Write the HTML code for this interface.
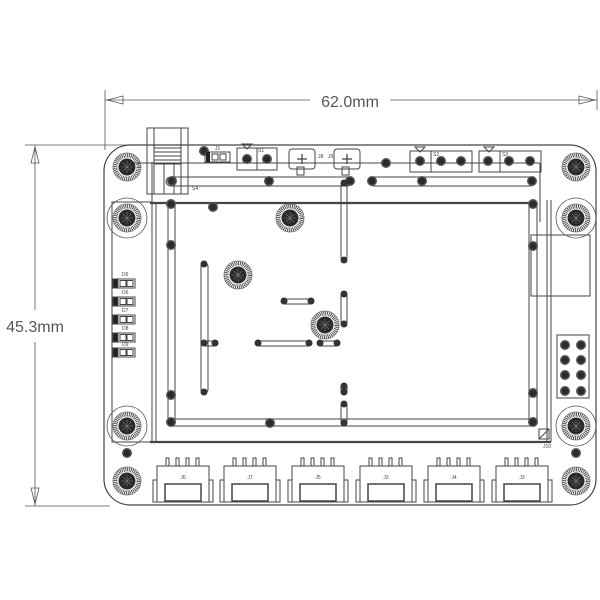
<!DOCTYPE html>
<html><head><meta charset="utf-8"><style>
html,body{margin:0;padding:0;background:#fff;}
svg{display:block;}
text{font-family:"Liberation Sans",sans-serif;}
</style></head><body>
<svg width="600" height="600" viewBox="0 0 600 600" xmlns="http://www.w3.org/2000/svg">
<defs>
<g id="kh">
<circle r="14" fill="none" stroke="#666" stroke-width="0.8"/>
<circle r="11.5" fill="none" stroke="#444" stroke-width="4" stroke-dasharray="0.9 0.9"/>
<circle r="8.5" fill="#2b2b2b"/>
<path d="M-6 0H6M0 -6V6M-4 -4L4 4M-4 4L4 -4" stroke="#777" stroke-width="0.6"/>
</g>
<g id="khr">
<circle r="20" fill="none" stroke="#555" stroke-width="0.8"/>
<use href="#kh"/>
</g>
<g id="via"><circle r="5" fill="#555"/><circle r="3.5" fill="#2b2b2b"/></g>
<g id="dot"><circle r="3.5" fill="#333"/></g>
<g id="conn" fill="none" stroke="#444" stroke-width="1">
<rect x="-26" y="466" width="52" height="36"/>
<rect x="-30" y="480" width="4" height="22"/>
<rect x="26" y="480" width="4" height="22"/>
<rect x="-18" y="484" width="36" height="17" stroke-width="1.5"/>
<rect x="-17" y="458" width="3" height="8"/>
<rect x="-7" y="458" width="3" height="8"/>
<rect x="3" y="458" width="3" height="8"/>
<rect x="13" y="458" width="3" height="8"/>
</g>
<g id="led" fill="none" stroke="#444" stroke-width="1">
<rect x="0" y="0" width="5" height="9" fill="#222"/>
<rect x="5" y="0" width="17" height="9"/>
<rect x="7" y="1.5" width="6" height="6"/>
<rect x="14" y="1.5" width="6" height="6"/>
</g>
</defs>

<!-- dimension lines -->
<g stroke="#555" stroke-width="0.8" fill="none">
<line x1="105" y1="90" x2="105" y2="150"/>
<line x1="597" y1="90" x2="597" y2="110"/>
<line x1="105" y1="100" x2="310" y2="100"/>
<line x1="390" y1="100" x2="597" y2="100"/>
<line x1="25" y1="145" x2="130" y2="145"/>
<line x1="25" y1="506" x2="110" y2="506"/>
<line x1="35" y1="145" x2="35" y2="310"/>
<line x1="35" y1="342" x2="35" y2="506"/>
<polygon points="107,100 123,96 123,104"/>
<polygon points="595,100 579,96 579,104"/>
<polygon points="35,147 31,163 39,163"/>
<polygon points="35,504 31,488 39,488"/>
</g>
<text x="350" y="107" font-size="16" fill="#555" text-anchor="middle">62.0mm</text>
<text x="35" y="332" font-size="16" fill="#555" text-anchor="middle">45.3mm</text>

<!-- board outline -->
<rect x="104" y="145" width="492" height="360" rx="26" fill="none" stroke="#444" stroke-width="1.2"/>

<!-- left box & right lines -->
<g fill="none" stroke="#444" stroke-width="1">
<rect x="112" y="202" width="40" height="240"/>
<line x1="150" y1="203" x2="532" y2="203" stroke-width="2.2"/>
<line x1="150" y1="442" x2="551" y2="442" stroke-width="2.2"/>
<line x1="152" y1="203" x2="152" y2="442"/>
<line x1="156" y1="203" x2="156" y2="442"/>
<line x1="547" y1="200" x2="547" y2="442"/>
<line x1="551" y1="200" x2="551" y2="442"/>
<line x1="130" y1="163" x2="540" y2="163"/>
<line x1="540" y1="163" x2="540" y2="190"/>
<line x1="540" y1="190" x2="540" y2="222"/>
<rect x="531" y="235" width="59" height="61"/>
<rect x="557" y="335" width="32" height="63"/>
<rect x="539" y="429" width="10" height="10"/>
<line x1="539" y1="439" x2="549" y2="429"/>
</g>

<!-- rails -->
<g fill="none" stroke="#444" stroke-width="1">
<rect x="166" y="177" width="186" height="9" rx="4.5"/>
<rect x="369" y="177" width="166" height="9" rx="4.5"/>
<rect x="168" y="203" width="7" height="222" rx="3.5"/>
<rect x="529" y="203" width="8" height="222" rx="4"/>
<rect x="168" y="419" width="369" height="7" rx="3.5"/>
<rect x="201" y="263" width="7" height="130" rx="3.5"/>
<rect x="203" y="341" width="14" height="5" rx="2.5"/>
<rect x="256" y="341" width="54" height="5" rx="2.5"/>
<rect x="282" y="299" width="30" height="5" rx="2.5"/>
<rect x="318" y="341" width="20" height="5" rx="2.5"/>
<rect x="341" y="183" width="6" height="77" rx="3"/>
<rect x="341" y="293" width="6" height="32" rx="3"/>
<rect x="341" y="384" width="6" height="10" rx="3"/>
<rect x="341" y="403" width="6" height="21" rx="3"/>
</g>
<g>
<use href="#via" x="172" y="181"/><use href="#via" x="350" y="181"/>
<use href="#via" x="372" y="181"/><use href="#via" x="532" y="181"/>
<use href="#via" x="171" y="204"/><use href="#via" x="171" y="422"/>
<use href="#via" x="533" y="204"/><use href="#via" x="533" y="422"/>
<use href="#via" x="171" y="245"/><use href="#via" x="171" y="395"/>
<use href="#via" x="533" y="246"/><use href="#via" x="533" y="393"/>
<use href="#via" x="269" y="181"/><use href="#via" x="422" y="181"/>
<use href="#via" x="270" y="423"/><use href="#via" x="386" y="163"/>
<use href="#via" x="127" y="453"/><use href="#via" x="576" y="453"/>
<use href="#via" x="213" y="207"/><use href="#via" x="204" y="151"/>
<use href="#dot" x="204" y="264"/><use href="#dot" x="204" y="392"/>
<use href="#dot" x="204" y="343"/><use href="#dot" x="215" y="343"/>
<use href="#dot" x="258" y="343"/><use href="#dot" x="309" y="343"/>
<use href="#dot" x="284" y="301"/><use href="#dot" x="311" y="301"/>
<use href="#dot" x="320" y="343"/><use href="#dot" x="337" y="343"/>
<use href="#dot" x="344" y="260"/><use href="#dot" x="344" y="294"/>
<use href="#dot" x="344" y="324"/><use href="#dot" x="344" y="386"/>
<use href="#dot" x="344" y="392"/><use href="#dot" x="344" y="404"/>
<use href="#dot" x="344" y="423"/><use href="#dot" x="344" y="183"/>
</g>
<!-- header pins -->
<g>
<use href="#via" x="565" y="345"/><use href="#via" x="581" y="345"/>
<use href="#via" x="565" y="360"/><use href="#via" x="581" y="360"/>
<use href="#via" x="565" y="375"/><use href="#via" x="581" y="375"/>
<use href="#via" x="565" y="391"/><use href="#via" x="581" y="391"/>
</g>

<!-- mounting holes -->
<use href="#kh" x="127" y="167"/><use href="#kh" x="576" y="167"/>
<use href="#khr" x="127" y="218"/><use href="#khr" x="576" y="218"/>
<use href="#khr" x="127" y="426"/><use href="#khr" x="576" y="426"/>
<use href="#kh" x="127" y="481"/><use href="#kh" x="576" y="481"/>
<use href="#kh" x="290" y="218"/><use href="#kh" x="238" y="275"/>
<use href="#kh" x="325" y="325"/>

<!-- top-left connector -->
<g fill="none" stroke="#444" stroke-width="1">
<rect x="147" y="128" width="41" height="66"/>
<line x1="154" y1="128" x2="154" y2="194"/>
<line x1="181" y1="128" x2="181" y2="194"/>
<line x1="154" y1="148" x2="181" y2="148"/>
<line x1="154" y1="152" x2="181" y2="152"/>
<line x1="154" y1="156" x2="181" y2="156"/>
<line x1="154" y1="160" x2="181" y2="160"/>
<line x1="154" y1="164" x2="181" y2="164"/>
<line x1="152" y1="162" x2="152" y2="210"/>
<line x1="164" y1="164" x2="164" y2="194"/>
<line x1="174" y1="164" x2="174" y2="194"/>
<rect x="205" y="152" width="25" height="10"/>
<rect x="212" y="154" width="6" height="6"/><rect x="220" y="154" width="6" height="6"/>
<rect x="237" y="148" width="20" height="22"/>
<rect x="257" y="148" width="20" height="22"/>
<polygon points="242,144 252,144 247,149"/>
<rect x="289" y="149" width="26" height="20" rx="3"/>
<rect x="297" y="167" width="7" height="8"/>
<rect x="334" y="149" width="26" height="20" rx="3"/>
<rect x="342" y="167" width="7" height="8"/>
<path d="M302 154v10M297 159h10M347 154v10M342 159h10" stroke-width="1.3"/>
<rect x="410" y="151" width="62" height="21"/><line x1="431" y1="151" x2="431" y2="172"/>
<rect x="479" y="151" width="62" height="21"/><line x1="500" y1="151" x2="500" y2="172"/>
<polygon points="415,147 425,147 420,152"/>
<polygon points="484,147 494,147 489,152"/>
</g>
<rect x="206" y="152" width="4" height="10" fill="#222"/>
<use href="#via" x="247" y="159"/><use href="#via" x="267" y="159"/>
<use href="#via" x="420" y="161"/><use href="#via" x="441" y="161"/><use href="#via" x="461" y="161"/>
<use href="#via" x="488" y="161"/><use href="#via" x="509" y="161"/><use href="#via" x="530" y="161"/>

<!-- LEDs -->
<use href="#led" x="113" y="279"/>
<use href="#led" x="113" y="297"/>
<use href="#led" x="113" y="315"/>
<use href="#led" x="113" y="333"/>
<use href="#led" x="113" y="348"/>
<g font-size="5" fill="#444">
<text x="122" y="276">D5</text><text x="122" y="294">D6</text><text x="122" y="312">D7</text>
<text x="122" y="330">D8</text><text x="122" y="346">D9</text>
<text x="215" y="150">J1</text><text x="192" y="190">S4</text><text x="258" y="152">S1</text>
<text x="318" y="158">J8</text><text x="328" y="158">J9</text>
<text x="433" y="156">S2</text><text x="502" y="156">S3</text>
<text x="543" y="448">J10</text>
</g>

<!-- bottom connectors -->
<use href="#conn" x="183"/><use href="#conn" x="250"/><use href="#conn" x="318"/>
<use href="#conn" x="386"/><use href="#conn" x="454"/><use href="#conn" x="522"/>
<g font-size="5" fill="#444" text-anchor="middle">
<text x="183" y="479">J6</text><text x="250" y="479">J7</text><text x="318" y="479">J5</text>
<text x="386" y="479">J2</text><text x="454" y="479">J4</text><text x="522" y="479">J3</text>
</g>
</svg>
</body></html>
